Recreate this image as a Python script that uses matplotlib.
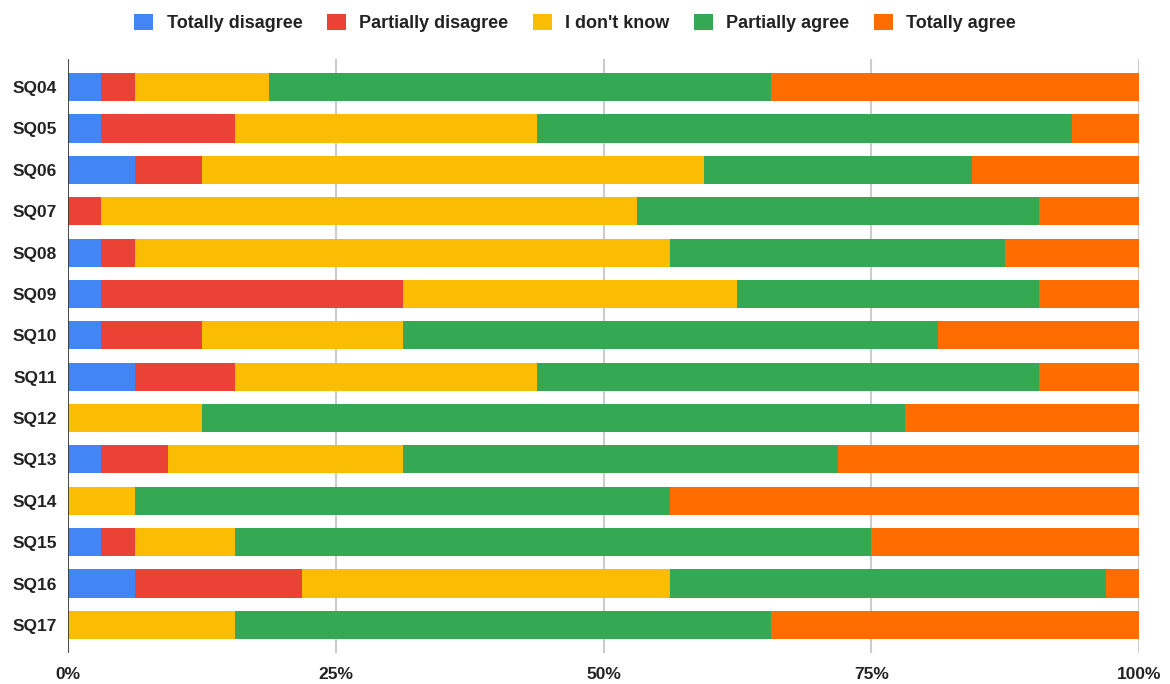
import matplotlib
matplotlib.use("Agg")
import matplotlib.pyplot as plt
from matplotlib.patches import Patch
import numpy as np

plt.rcParams['font.family'] = ['Liberation Sans', 'DejaVu Sans']

questions = ["SQ04", "SQ05", "SQ06", "SQ07", "SQ08", "SQ09", "SQ10",
             "SQ11", "SQ12", "SQ13", "SQ14", "SQ15", "SQ16", "SQ17"]
series_names = ["Totally disagree", "Partially disagree", "I don't know",
                "Partially agree", "Totally agree"]
colors = ["#4285F4", "#EA4335", "#FBBC04", "#34A853", "#FF6D01"]

# response counts per question
totally_disagree   = [1, 1, 2, 0, 1, 1, 1, 2, 0, 1, 0, 1, 2, 0]
partially_disagree = [1, 4, 2, 1, 1, 9, 3, 3, 0, 2, 0, 1, 5, 0]
dont_know          = [4, 9, 15, 16, 16, 10, 6, 9, 4, 7, 2, 3, 11, 5]
partially_agree    = [15, 16, 8, 12, 10, 9, 16, 15, 21, 13, 16, 19, 13, 16]
totally_agree      = [11, 2, 5, 3, 4, 3, 6, 3, 7, 9, 14, 8, 1, 11]

data = np.array([totally_disagree, partially_disagree, dont_know,
                 partially_agree, totally_agree], dtype=float)
pct = data / data.sum(axis=0) * 100

fig = plt.figure(figsize=(11.7, 6.84), dpi=100)
ax = fig.add_axes([68/1170, 1 - 653/684, (1139-68)/1170, (653-59)/684])

y = np.arange(len(questions))
left = np.zeros(len(questions))
for i in range(5):
    ax.barh(y, pct[i], left=left, height=0.68, color=colors[i],
            edgecolor='none', zorder=3)
    left += pct[i]

ax.set_xlim(0, 100)
ax.set_ylim(13.68, -0.68)
ax.set_xticks([0, 25, 50, 75, 100])
ax.set_xticklabels(["0%", "25%", "50%", "75%", "100%"])
ax.set_yticks(y)
ax.set_yticklabels(questions)
for lbl in ax.get_xticklabels() + ax.get_yticklabels():
    lbl.set_fontweight('bold')
    lbl.set_fontsize(12.5)
    lbl.set_color('#222222')
ax.tick_params(axis='both', length=0)
ax.tick_params(axis='x', pad=10)
ax.tick_params(axis='y', pad=8)
ax.grid(axis='x', color='#cccccc', linewidth=1.5, zorder=0)
ax.axvline(0, color='#333333', linewidth=1.2, zorder=4)
for s in ax.spines.values():
    s.set_visible(False)

handles = [Patch(facecolor=c, edgecolor='none') for c in colors]
leg = fig.legend(handles, series_names, ncol=5, loc='center',
                 bbox_to_anchor=(575/1170, 1 - 23/684), frameon=False,
                 handlelength=1.05, handleheight=1.05, handletextpad=0.75,
                 columnspacing=1.35,
                 prop={'weight': 'bold', 'size': 13})
for t in leg.get_texts():
    t.set_color('#222222')

fig.savefig("out.png", dpi=100)
